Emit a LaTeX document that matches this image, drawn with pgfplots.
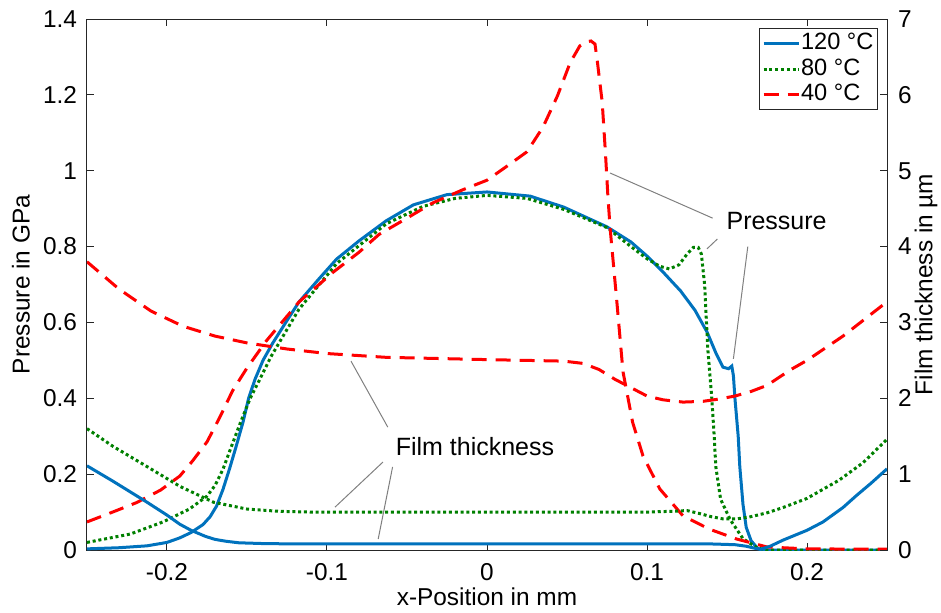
\documentclass[border=0pt]{standalone}
\usepackage{pgfplots}
\pgfplotsset{compat=1.18}
\usepackage{fontspec}
\setmainfont{Liberation Sans}
\definecolor{mblue}{RGB}{0,114,189}
\definecolor{mgreen}{RGB}{0,128,0}
\definecolor{mred}{RGB}{255,0,0}
\definecolor{axgray}{RGB}{38,38,38}
\begin{document}
\begin{tikzpicture}
\pgfplotsset{
  common/.style={
    scale only axis, width=400pt, height=265.5pt,
    xmin=-0.25, xmax=0.25,
    font=\fontsize{12.2}{14}\selectfont,
    tick align=inside, major tick length=3.5pt,
    axis line style={axgray, line width=0.5pt},
    every tick/.style={axgray, line width=0.5pt},
  },
  blueS/.style={mblue, line width=1.5pt},
  greenS/.style={mgreen, line width=1.5pt, dash pattern=on 1.5pt off 1.4pt},
  redS/.style={mred, line width=1.5pt, dash pattern=on 7.5pt off 4.5pt},
}
\begin{axis}[common, name=ax,
  ymin=0, ymax=1.4,
  xtick={-0.2,-0.1,0,0.1,0.2}, xticklabels={-0.2,-0.1,0,0.1,0.2},
  ytick={0,0.2,0.4,0.6,0.8,1,1.2,1.4}, yticklabels={0,0.2,0.4,0.6,0.8,1,1.2,1.4},
  ytick pos=left, xtick pos=both,
  xticklabel style={yshift=-3pt},
  yticklabel style={xshift=-1.5pt},
  xlabel={x-Position in mm}, ylabel={Pressure in GPa},
  xlabel style={at={(axis description cs:0.5,0)}, anchor=base, yshift=-27.5pt},
  ylabel style={at={(axis description cs:-0.0825,0.5)}, rotate=0, anchor=center},
  legend style={at={(1,1)}, xshift=-4.5pt, yshift=-4.5pt, anchor=north east,
    draw=axgray, line width=0.5pt, inner xsep=1.5pt, inner ysep=1.5pt, row sep=0.75pt,
    font=\fontsize{11.8}{13}\selectfont,
    nodes={inner sep=0.5pt, text height=8.5pt, text depth=2.5pt}},
  legend cell align=left,
  legend image code/.code={\draw[#1] (0pt,0pt) -- (17.5pt,0pt);},
]
\addplot[blueS] coordinates {
(-0.25,0.003) (-0.23,0.006) (-0.2125,0.011) (-0.2,0.02) (-0.192,0.032) (-0.185,0.046)
(-0.1775,0.067) (-0.173,0.088) (-0.169,0.116) (-0.165,0.160) (-0.161,0.213) (-0.157,0.27)
(-0.1525,0.337) (-0.149,0.400) (-0.145,0.45) (-0.14,0.50) (-0.134,0.545) (-0.125,0.605)
(-0.1175,0.654) (-0.105,0.715) (-0.094,0.767) (-0.08,0.815) (-0.063,0.868) (-0.046,0.910)
(-0.025,0.937) (0,0.944) (0.027,0.933) (0.048,0.904) (0.075,0.852) (0.09,0.812)
(0.1,0.775) (0.11,0.733) (0.121,0.683) (0.13,0.632) (0.1375,0.575) (0.143,0.52)
(0.1475,0.482) (0.151,0.478) (0.153,0.485) (0.154,0.46) (0.155,0.398) (0.157,0.30)
(0.158,0.22) (0.160,0.12) (0.162,0.06) (0.165,0.025) (0.169,0.005) (0.172,0) (0.25,0)
};
\addlegendentry{120 °C}
\addplot[greenS] coordinates {
(-0.25,0.02) (-0.223,0.042) (-0.2025,0.074) (-0.186,0.108) (-0.175,0.142) (-0.17,0.17)
(-0.165,0.213) (-0.16,0.27) (-0.154,0.337) (-0.148,0.40) (-0.142,0.45) (-0.135,0.51)
(-0.1175,0.635) (-0.094,0.755) (-0.063,0.86) (-0.04,0.906) (-0.02,0.927) (0,0.935)
(0.025,0.927) (0.048,0.898) (0.075,0.85) (0.09,0.8) (0.1,0.768) (0.108,0.748)
(0.114,0.741) (0.12,0.752) (0.125,0.78) (0.129,0.798) (0.132,0.798) (0.134,0.78)
(0.136,0.70) (0.138,0.53) (0.1405,0.40) (0.142,0.30) (0.143,0.22) (0.146,0.134)
(0.152,0.08) (0.16,0.03) (0.169,0.005) (0.175,0) (0.25,0)
};
\addlegendentry{80 °C}
\addplot[redS] coordinates {
(-0.25,0.074) (-0.234,0.100) (-0.219,0.125) (-0.204,0.158) (-0.192,0.195) (-0.184,0.235)
(-0.175,0.285) (-0.167,0.350) (-0.159,0.420) (-0.15,0.48) (-0.138,0.551) (-0.1175,0.654)
(-0.096,0.733) (-0.08,0.785) (-0.0675,0.832) (-0.05,0.875) (-0.034,0.915) (-0.015,0.950)
(0,0.975) (0.0125,1.012) (0.025,1.05) (0.035,1.115) (0.044,1.197) (0.052,1.285)
(0.058,1.329) (0.062,1.340) (0.065,1.342) (0.0675,1.334) (0.069,1.287) (0.072,1.181) (0.074,1.049)
(0.0756,0.930) (0.077,0.846) (0.081,0.662) (0.085,0.47) (0.091,0.337) (0.0975,0.248)
(0.108,0.161) (0.1225,0.09) (0.139,0.055) (0.156,0.029) (0.175,0.008) (0.2,0.003) (0.25,0.002)
};
\addlegendentry{40 °C}
% annotation leader lines
\draw[gray, line width=0.5pt] (axis cs:0.0769,0.994) -- (axis cs:0.141,0.875);
\draw[gray, line width=0.5pt] (axis cs:0.1375,0.794) -- (axis cs:0.144,0.82);
\draw[gray, line width=0.5pt] (axis cs:0.154,0.504) -- (axis cs:0.163,0.80);
\node[font=\fontsize{12.5}{14}\selectfont] at (axis cs:0.181,0.867) {Pressure};
\draw[gray, line width=0.5pt] (axis cs:-0.085,0.498) -- (axis cs:-0.062,0.324);
\draw[gray, line width=0.5pt] (axis cs:-0.095,0.113) -- (axis cs:-0.065,0.232);
\draw[gray, line width=0.5pt] (axis cs:-0.068,0.029) -- (axis cs:-0.059,0.219);
\node[font=\fontsize{12.5}{14}\selectfont] at (axis cs:-0.0075,0.274) {Film thickness};
\end{axis}
\begin{axis}[common,
  ymin=0, ymax=7,
  axis x line=none, axis y line*=right,
  ytick={0,1,2,3,4,5,6,7}, yticklabels={0,1,2,3,4,5,6,7},
  yticklabel style={xshift=2pt},
  ylabel={Film thickness in µm},
  ylabel style={at={(axis description cs:1.04875,0.5)}, rotate=0, anchor=center},
]
\addplot[blueS] coordinates {
(-0.25,1.11) (-0.234,0.91) (-0.2125,0.63) (-0.2,0.46) (-0.192,0.34) (-0.185,0.26)
(-0.176,0.18) (-0.17,0.14) (-0.163,0.115) (-0.155,0.095) (-0.14,0.085) (-0.12,0.08)
(0.14,0.08) (0.155,0.07)
(0.162,0.05) (0.168,0.02) (0.171,0.01) (0.177,0.05) (0.185,0.13) (0.2,0.26)
(0.21,0.37) (0.2225,0.56) (0.231,0.72) (0.24,0.88) (0.25,1.07)
};
\addplot[greenS] coordinates {
(-0.25,1.60) (-0.234,1.37) (-0.2125,1.10) (-0.192,0.84) (-0.171,0.63) (-0.15,0.54)
(-0.13,0.51) (-0.109,0.50) (0,0.50) (0.1,0.50) (0.115,0.51) (0.125,0.52) (0.133,0.48)
(0.14,0.44) (0.1475,0.41) (0.156,0.41) (0.164,0.435) (0.175,0.49) (0.185,0.56)
(0.2,0.68) (0.22,0.92) (0.235,1.15) (0.25,1.46)
};
\addplot[redS] coordinates {
(-0.25,3.80) (-0.23,3.44) (-0.21,3.15) (-0.19,2.95) (-0.17,2.82) (-0.15,2.73)
(-0.125,2.65) (-0.1,2.59) (-0.063,2.54) (0,2.51) (0.048,2.49) (0.06,2.46) (0.07,2.38)
(0.08,2.25) (0.09,2.14) (0.1,2.03) (0.11,1.98) (0.1225,1.95) (0.135,1.96) (0.145,1.99)
(0.155,2.03) (0.165,2.09) (0.175,2.17) (0.19,2.38) (0.2,2.50) (0.2225,2.82)
(0.2456,3.2) (0.25,3.27)
};
\end{axis}
\pgfresetboundingbox
\path[use as bounding box] ([xshift=-43.5pt,yshift=-31pt]ax.south west) rectangle ([xshift=27pt,yshift=9.5pt]ax.north east);
\end{tikzpicture}
\end{document}
